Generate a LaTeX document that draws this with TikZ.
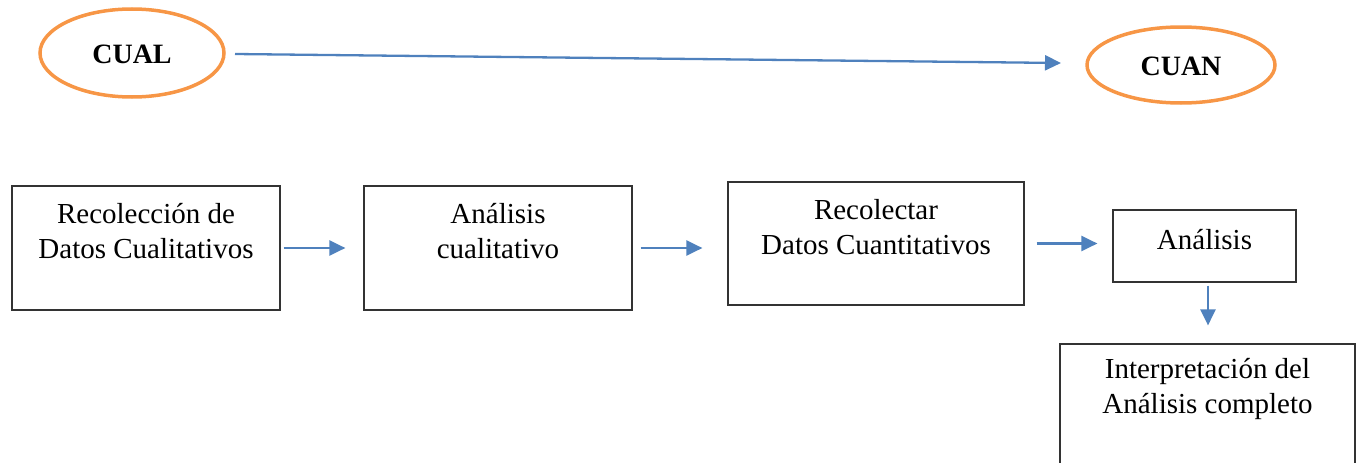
\documentclass[tikz,border=0pt]{standalone}
\usepackage{fontspec}
\setmainfont{Liberation Serif}
\usetikzlibrary{arrows.meta,shapes.geometric}
\definecolor{ovalorange}{HTML}{F79646}
\definecolor{flowblue}{HTML}{4F81BD}
\tikzset{
  oval/.style={draw=ovalorange, line width=3.5pt, ellipse, inner sep=0pt},
  box/.style={draw=black!80, line width=1.2pt, rectangle, inner sep=0pt},
  boxtext/.style={align=center, font=\fontsize{29}{35}\selectfont, inner sep=0pt},
  flow/.style={draw=flowblue, line width=2.3pt, -{Triangle[length=16pt,width=15pt]}},
}
\begin{document}
\begin{tikzpicture}[x=1pt,y=-1pt]
\useasboundingbox (0,0) rectangle (1357,463);
% top row: the two phases
\node[oval, minimum width=184, minimum height=88] (cual) at (132,53) {};
\node[font=\fontsize{28}{34}\selectfont\bfseries] at (132,54) {CUAL};
\node[oval, minimum width=188, minimum height=76] (cuan) at (1181,65) {};
\node[font=\fontsize{28}{34}\selectfont\bfseries] at (1181,66) {CUAN};
\coordinate (a0) at (235,54);
\coordinate (a1) at (1061,63);
\draw[flow] (a0) -- (a1);
% process boxes
\node[box, minimum width=268, minimum height=124] (b1) at (146,248) {};
\node[box, minimum width=268, minimum height=124] (b2) at (498,248) {};
\node[box, minimum width=296, minimum height=123] (b3) at (876,243.5) {};
\node[box, minimum width=183, minimum height=72] (b4) at (1204.5,246) {};
\node[box, minimum width=295, minimum height=140] (b5) at (1207.5,414) {};
% box labels
\node[boxtext] at (146,231) {Recolección de\\Datos Cualitativos};
\node[boxtext] at (498,231) {Análisis\\cualitativo};
\node[boxtext] at (876,227) {Recolectar\\Datos Cuantitativos};
\node[boxtext] at (1204.5,240) {Análisis};
\node[boxtext] at (1207.5,389) {Interpretación del\\Análisis completo};
% connectors
\draw[flow, shorten <=3pt, shorten >=18pt] (b1.east) -- (b2.west);
\draw[flow, shorten <=8pt, shorten >=25pt] (b2.east) -- (b2.east -| b3.west);
\draw[flow, shorten <=12pt, shorten >=15pt] (b3.east) -- (b3.east -| b4.west);
\draw[flow] ([xshift=3.5pt,yshift=-3pt]b4.south) -- ([xshift=3.5pt,yshift=18pt]b5.north -| b4.south);
\end{tikzpicture}
\end{document}
